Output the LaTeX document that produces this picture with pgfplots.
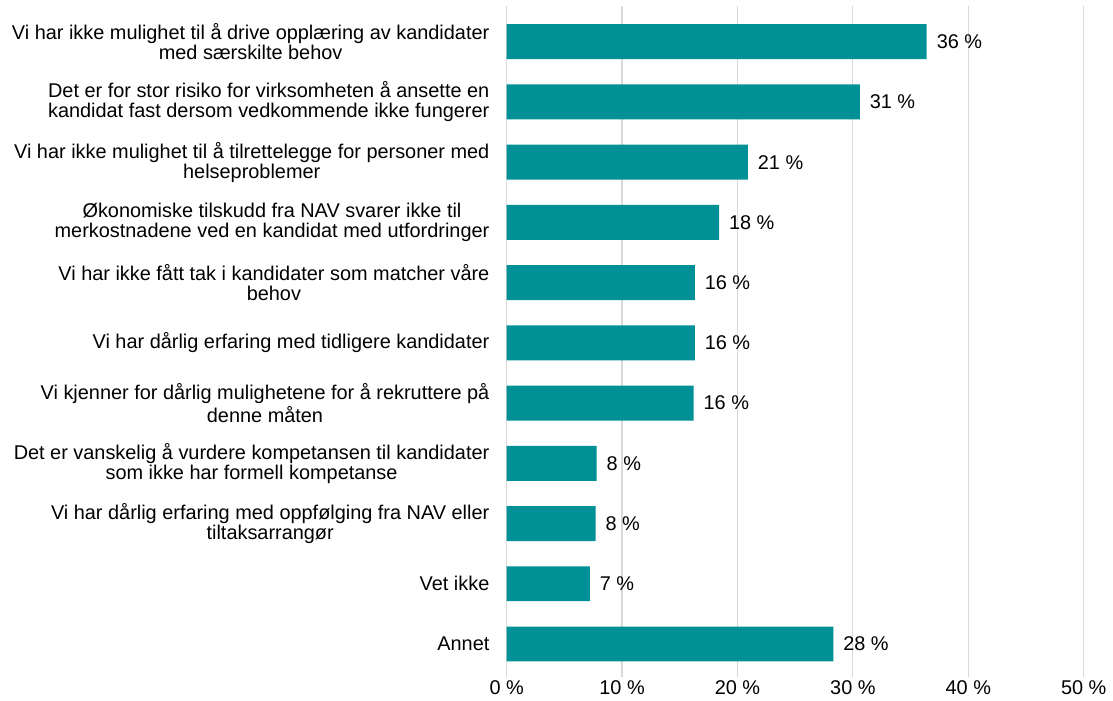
\documentclass[border=0pt]{standalone}
\usepackage{pgfplots}
\pgfplotsset{compat=1.18}
\usepackage{fontspec}
\setmainfont{Liberation Sans}
\definecolor{barteal}{RGB}{0,145,150}
\definecolor{gridgray}{RGB}{217,217,217}
\begin{document}
\begin{tikzpicture}
\begin{axis}[
  xbar,
  scale only axis,
  width=290pt, height=337.5pt,
  xmin=0, xmax=50,
  ymin=-0.6, ymax=10.55,
  y dir=reverse,
  bar width=0.58,
  axis line style={draw=none},
  xmajorgrids, grid style={gridgray, line width=0.6pt},
  xtick={0,10,20,30,40,50},
  xticklabel={\pgfmathprintnumber{\tick}~\%},
  ytick={0,...,10},
  yticklabels={
    {Vi har ikke mulighet til å drive opplæring av kandidater\\med særskilte behov},
    {Det er for stor risiko for virksomheten å ansette en\\kandidat fast dersom vedkommende ikke fungerer},
    {Vi har ikke mulighet til å tilrettelegge for personer med\\helseproblemer},
    {Økonomiske tilskudd fra NAV svarer ikke til\\merkostnadene ved en kandidat med utfordringer},
    {Vi har ikke fått tak i kandidater som matcher våre\\behov},
    {Vi har dårlig erfaring med tidligere kandidater},
    {Vi kjenner for dårlig mulighetene for å rekruttere på\\denne måten},
    {Det er vanskelig å vurdere kompetansen til kandidater\\som ikke har formell kompetanse},
    {Vi har dårlig erfaring med oppfølging fra NAV eller\\tiltaksarrangør},
    {Vet ikke},
    {Annet}},
  yticklabel style={align=center, font=\fontsize{10}{10}\selectfont, inner sep=0pt, xshift=-8.5pt},
  xticklabel style={font=\fontsize{10}{11}\selectfont, yshift=2pt},
  /pgf/number format/assume math mode=true,
  major tick length=0pt,
  nodes near coords={\pgfmathprintnumber[fixed,precision=0]{\pgfplotspointmeta}~\%},
  nodes near coords style={font=\fontsize{10}{11}\selectfont, anchor=west, xshift=1.5pt},
]
\addplot[fill=barteal, draw=none] coordinates {
  (36.4,0) (30.6,1) (20.9,2) (18.4,3) (16.3,4) (16.3,5) (16.2,6) (7.8,7) (7.7,8) (7.2,9) (28.3,10)
};
\end{axis}
\path (current bounding box.west) ++(-6pt,0);
\path (current bounding box.north) ++(0,2.5pt);
\end{tikzpicture}
\end{document}
